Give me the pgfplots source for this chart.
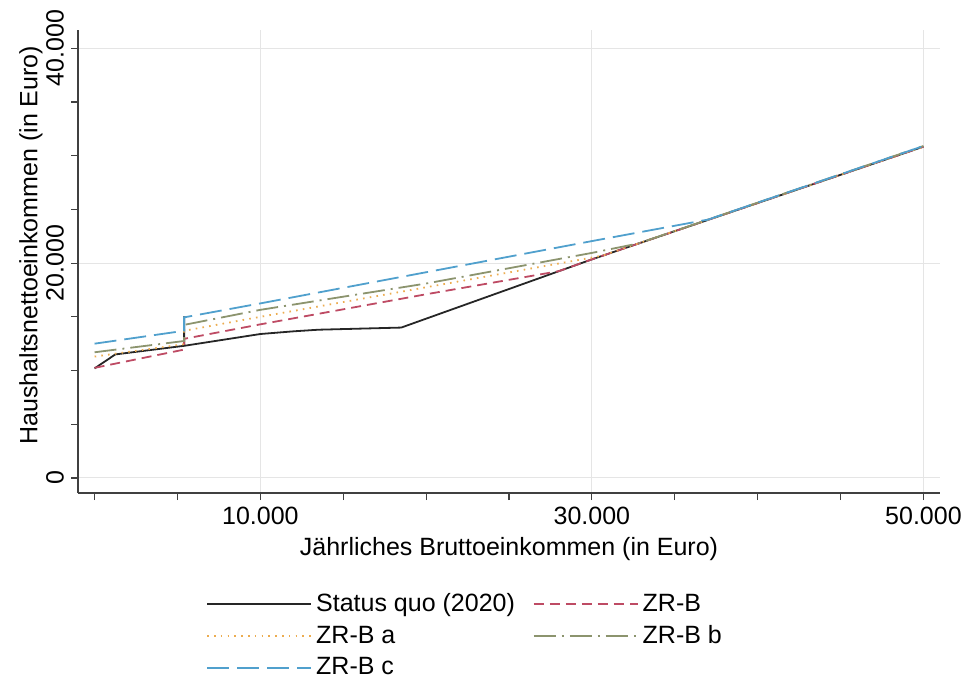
\documentclass[border=0pt]{standalone}
\usepackage{pgfplots}
\pgfplotsset{compat=1.18}
\usepackage{fontspec}
\setmainfont{Liberation Sans}
\definecolor{cZRB}{RGB}{190,75,100}
\definecolor{cZRBa}{RGB}{236,172,80}
\definecolor{cZRBb}{RGB}{140,148,110}
\definecolor{cZRBc}{RGB}{80,160,205}
\newcommand{\lf}{\fontsize{12.5}{15}\selectfont}
\begin{document}
\begin{tikzpicture}
\begin{axis}[
  scale only axis, width=431pt, height=231.5pt,
  xmin=-1000, xmax=51000, ymin=-1400, ymax=41700,
  scaled ticks=false,
  axis lines=left,
  axis line style={-, line width=0.7pt, color=black!75},
  xtick={10000,30000,50000}, xticklabels={10.000,30.000,50.000},
  minor xtick={0,5000,15000,20000,25000,35000,40000,45000},
  ytick={0,20000,40000}, yticklabels={0,20.000,40.000},
  minor ytick={5000,10000,15000,25000,30000,35000},
  tick align=outside, major tick length=3.5pt, minor tick length=3.5pt,
  every tick/.style={line width=0.6pt, color=black!75},
  grid=major, major grid style={line width=0.5pt, color=black!10},
  /pgf/number format/assume math mode=true,
  xticklabel style={font=\lf},
  yticklabel style={font=\lf, rotate=90, anchor=south},
  xlabel={Jährliches Bruttoeinkommen (in Euro)},
  ylabel={Haushaltsnettoeinkommen (in Euro)},
  xlabel style={font=\lf, at={(axis description cs:0.5,-0.121)}, anchor=center},
  ylabel style={font=\lf, at={(axis description cs:-0.0545,0.535)}, anchor=center},
  legend columns=2,
  legend cell align=left,
  legend image code/.code={\draw[#1, line width=0.9pt] (0pt,0pt) -- (46pt,0pt); \path (0pt,0pt) -- (52pt,0pt);},
  legend style={at={(axis description cs:0.1415,-0.199)}, anchor=north west,
    draw=none, fill=none, font=\lf, row sep=1.5pt,
    /tikz/every even column/.append style={column sep=7pt}},
]
% Status quo (2020)
\addplot[black!85, line width=0.9pt] coordinates {
 (0,10200) (1250,11500) (5400,12300) (5400,15050) (5400,12300)
 (10000,13400) (12000,13650) (13500,13800) (18500,14000)
 (30000,20350) (50000,30840)};
\addlegendentry{Status quo (2020)}
% ZR-B
\addplot[cZRB, line width=0.9pt, dash pattern=on 5pt off 3pt] coordinates {
 (0,10250) (5400,11950) (5400,12950) (10000,14300) (20000,17100)
 (28000,19250) (30000,20350) (50000,30840)};
\addlegendentry{ZR-B}
% ZR-B a
\addplot[cZRBa, line width=0.9pt, dash pattern=on 0.8pt off 2.6pt] coordinates {
 (0,11300) (5400,12450) (5400,13700) (10000,15000) (20000,17750)
 (30600,20680) (50000,30840)};
\addlegendentry{ZR-B a}
% ZR-B b
\addplot[cZRBb, line width=0.9pt, dash pattern=on 11pt off 3pt on 1pt off 3pt] coordinates {
 (0,11700) (5400,12750) (5400,14250) (10000,15650) (20000,18100)
 (30000,20950) (32800,21830) (50000,30900)};
\addlegendentry{ZR-B b}
% ZR-B c
\addplot[cZRBc, line width=0.9pt, dash pattern=on 11pt off 4pt] coordinates {
 (0,12500) (5400,13700) (5400,14950) (10000,16250) (20000,19150)
 (30000,22050) (37000,24050) (50000,30900)};
\addlegendentry{ZR-B c}
\coordinate (bbsw) at (rel axis cs:-0.0905,-0.406);
\coordinate (bbne) at (rel axis cs:1.029,1.0648);
\end{axis}
\pgfresetboundingbox
\path[use as bounding box] (bbsw) rectangle (bbne);
\end{tikzpicture}
\end{document}
